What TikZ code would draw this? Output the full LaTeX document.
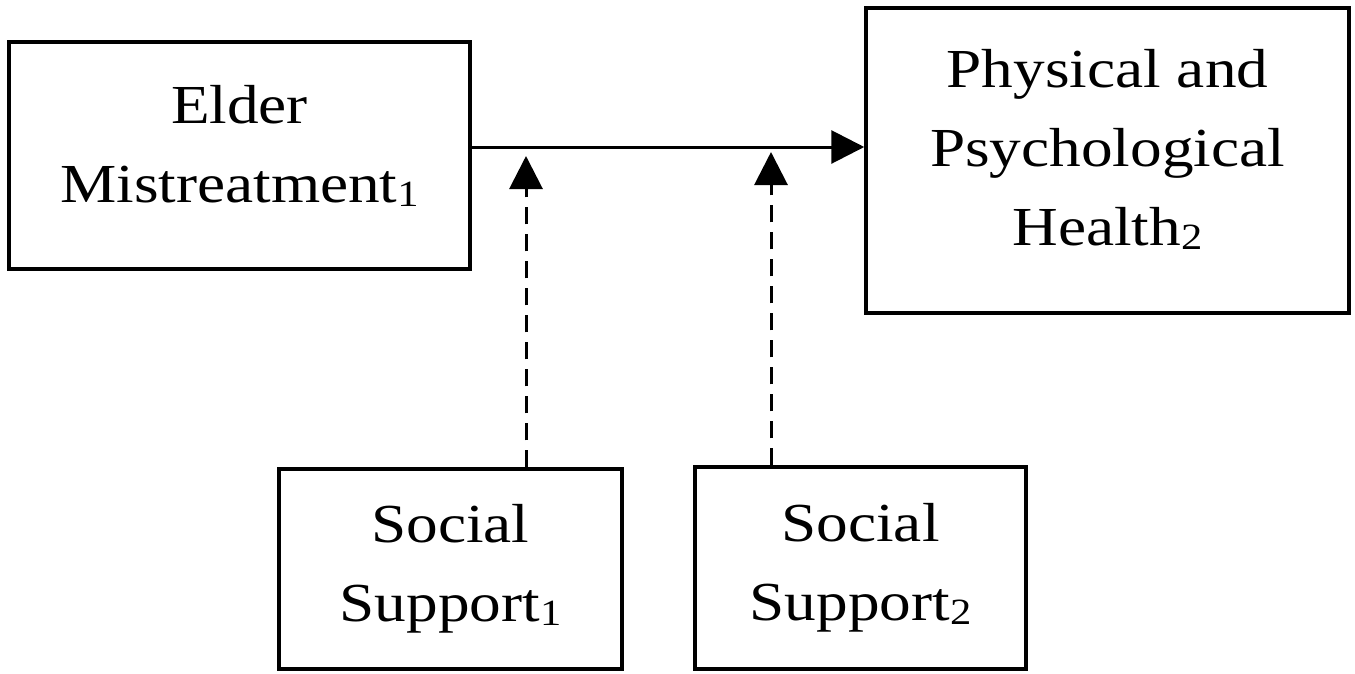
\documentclass[tikz,border=0pt]{standalone}
\usepackage{fontspec}
\setmainfont{Liberation Serif}[FakeStretch=1.15]
\usetikzlibrary{arrows.meta, positioning}
\newcommand\lowsub[1]{\raisebox{-4pt}{\fontsize{37}{37}\selectfont #1}}

\begin{document}
\begin{tikzpicture}[
  x=1pt, y=-1pt,
  varbox/.style={draw, line width=3.5pt, align=center, inner sep=0pt,
                 font=\fontsize{55}{79}\selectfont},
  path/.style={line width=3pt, -{Triangle[length=33pt, width=33pt]}},
  moder/.style={line width=3pt, dash pattern=on 17pt off 10pt,
                -{Triangle[length=33pt, width=33pt]}}
]
\useasboundingbox (0,0) rectangle (1355,673);
% predictor and outcome
\node[varbox, minimum width=461pt, minimum height=227pt, text depth=24pt]
  (EM) at (239.5,155.5) {Elder\\ Mistreatment\lowsub{1}};
\node[varbox, minimum width=483pt, minimum height=305pt, text depth=26pt]
  (PH) at (1107.5,160.5) {Physical and\\ Psychological\\ Health\lowsub{2}};
% moderators
\node[varbox, minimum width=343pt, minimum height=200pt] (SS1) at (450.5,569)
  {Social\\ Support\lowsub{1}};
\node[varbox, minimum width=331pt, minimum height=202pt] (SS2) at (860.5,568)
  {Social\\ Support\lowsub{2}};
% points where the moderators meet the main path
\coordinate (m1) at (526,156);
\coordinate (m2) at (771,152);
% main effect
\draw[path] (EM.east |- 0,147) -- (PH.west |- 0,147);
% moderation
\draw[moder] (SS1.north -| m1) -- (m1);
\draw[moder] (SS2.north -| m2) -- (m2);
\end{tikzpicture}
\end{document}
